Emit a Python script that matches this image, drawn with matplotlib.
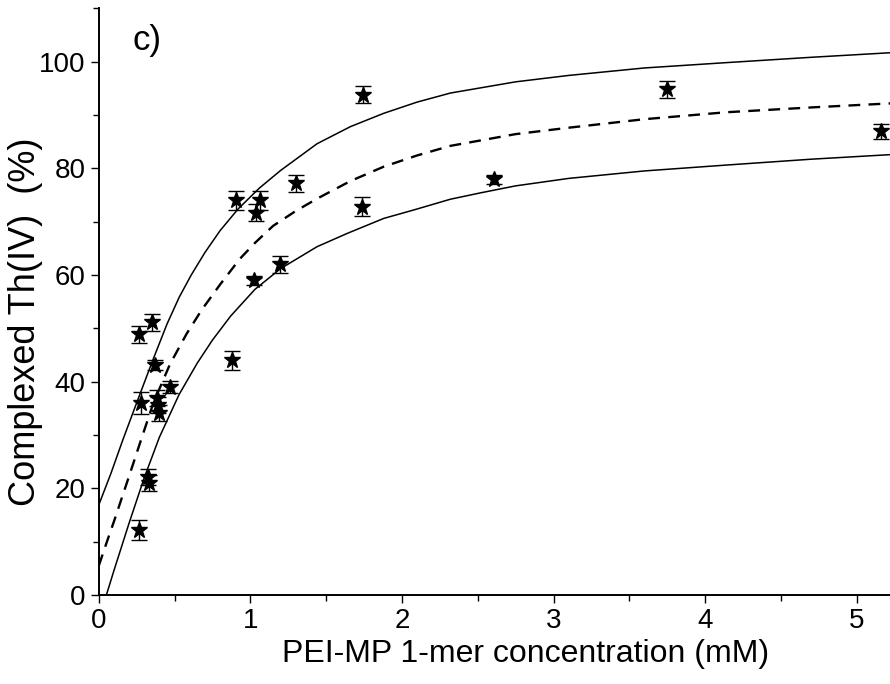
import matplotlib
matplotlib.use("Agg")
import matplotlib.pyplot as plt
from matplotlib.ticker import MultipleLocator

plt.rcParams['font.family'] = ['Liberation Sans', 'DejaVu Sans']

# measured points (conc in mM, complexed % and error)
conc = [0.264, 0.35, 0.37, 0.277, 0.383, 0.39, 0.396, 0.469, 0.323, 0.33, 0.264,
        0.878, 0.904, 1.036, 1.063, 1.023, 1.195, 1.30, 1.736, 1.743, 2.607, 3.75, 5.16]
complexed = [48.9, 51.1, 43.1, 36.0, 36.9, 35.6, 34.1, 39.0, 22.1, 21.0, 12.2,
             44.0, 74.0, 71.7, 74.0, 59.0, 62.0, 77.2, 72.8, 93.8, 77.9, 94.8, 86.9]
err = [1.6, 1.6, 0.9, 2.0, 1.5, 1.5, 1.5, 1.1, 1.5, 1.5, 1.8,
       1.8, 1.8, 1.6, 1.8, 0.9, 1.6, 1.6, 1.8, 1.6, 0.9, 1.6, 1.4]

# fit curve (dashed) and the two band limits
fit_x = [0, 0.05, 0.1, 0.2, 0.28, 0.36, 0.47, 0.58, 0.68, 0.8, 0.93, 1.03, 1.15, 1.3,
         1.44, 1.66, 1.88, 2.1, 2.32, 2.75, 3.1, 3.6, 4.14, 4.7, 5.25]
fit_y = [5.5, 9.7, 13.8, 22.3, 29.2, 36.0, 43.3, 49.0, 53.5, 58.2, 63.0, 66.0, 69.2, 72.0,
         74.3, 77.6, 80.3, 82.4, 84.2, 86.4, 87.6, 89.2, 90.5, 91.4, 92.2]

up_x = [0, 0.08, 0.16, 0.26, 0.36, 0.45, 0.53, 0.61, 0.7, 0.8, 0.92, 1.06, 1.2, 1.44,
        1.66, 1.88, 2.1, 2.32, 2.75, 3.1, 3.6, 4.14, 4.7, 5.25]
up_y = [16.9, 22.8, 29.2, 36.8, 44.3, 50.8, 55.8, 60.0, 64.2, 68.3, 72.4, 76.3, 79.6, 84.6,
        87.8, 90.3, 92.4, 94.1, 96.2, 97.4, 98.8, 99.8, 100.8, 101.7]

low_x = [0.05, 0.1, 0.2, 0.3, 0.4, 0.53, 0.65, 0.75, 0.87, 1.03, 1.2, 1.44, 1.64, 1.88, 2.08,
         2.32, 2.52, 2.75, 3.1, 3.6, 4.14, 4.7, 5.25]
low_y = [0.0, 4.6, 13.5, 22.0, 29.6, 37.6, 43.5, 47.8, 52.3, 57.3, 61.2, 65.3, 67.8, 70.6, 72.2,
         74.2, 75.4, 76.7, 78.1, 79.5, 80.6, 81.7, 82.6]

fig = plt.figure(figsize=(8.9, 6.84), dpi=100)
ax = fig.add_axes([0.111, 0.130, 0.889, 0.858])

ax.plot(up_x, up_y, color="black", lw=1.1)
ax.plot(low_x, low_y, color="black", lw=1.1)
ax.plot(fit_x, fit_y, color="black", lw=1.7, linestyle=(0, (5, 3.5)))
ax.errorbar(conc, complexed, yerr=err, fmt="*", color="black", ms=12,
            ecolor="black", elinewidth=1.0, capsize=5.5, capthick=1.0)

ax.set_xlim(0, 5.22)
ax.set_ylim(0, 110)
ax.xaxis.set_major_locator(MultipleLocator(1))
ax.xaxis.set_minor_locator(MultipleLocator(0.5))
ax.yaxis.set_major_locator(MultipleLocator(20))
ax.yaxis.set_minor_locator(MultipleLocator(10))
ax.tick_params(which="major", direction="out", length=5.5, width=1.0, labelsize=20, pad=4)
ax.tick_params(which="minor", direction="out", length=4, width=1.0)

for s in ["top", "right"]:
    ax.spines[s].set_visible(False)
for s in ["left", "bottom"]:
    ax.spines[s].set_linewidth(1.4)

ax.set_xlabel("PEI-MP 1-mer concentration (mM)", fontsize=23)
ax.xaxis.set_label_coords(0.54, -0.075)
ax.set_ylabel("Complexed Th(IV)  (%)", fontsize=26)
ax.yaxis.set_label_coords(-0.071, 0.465)
ax.text(0.043, 0.945, "c)", transform=ax.transAxes, fontsize=25, va="center")

fig.savefig("out.png", dpi=100)
